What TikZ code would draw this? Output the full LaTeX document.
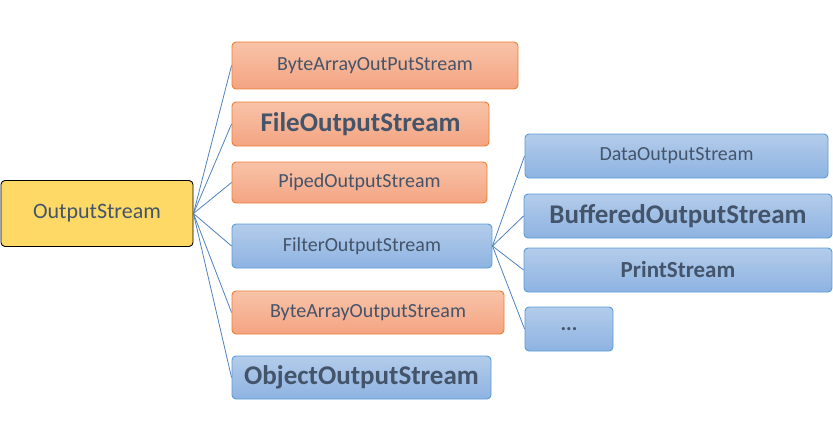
\documentclass[tikz,border=0pt]{standalone}
\usepackage{fontspec}
\setmainfont{Carlito}
\usepackage{xcolor}
\usepackage{tikz}
\usetikzlibrary{positioning}

\definecolor{txtgray}{HTML}{44546A}
\definecolor{orgtop}{HTML}{F8C3A8}
\definecolor{orgbot}{HTML}{F4A482}
\definecolor{orgline}{HTML}{ED7D31}
\definecolor{blutop}{HTML}{B3CCEA}
\definecolor{blubot}{HTML}{8EB3E2}
\definecolor{bluline}{HTML}{5B9BD5}
\definecolor{rootfill}{HTML}{FFD966}
\definecolor{linkcol}{HTML}{4F81BD}

\begin{document}
\begin{tikzpicture}[x=1pt, y=-1pt,
    box/.style={rounded corners=4pt, line width=0.9pt, text=txtgray, inner sep=0pt},
    orgbox/.style={box, draw=orgline, top color=orgtop, bottom color=orgbot},
    blubox/.style={box, draw=bluline, top color=blutop, bottom color=blubot},
    normtxt/.style={font=\fontsize{20}{22}\selectfont},
    boldtxt/.style={font=\fontsize{27}{30}\selectfont\bfseries},
    link/.style={linkcol, line width=0.8pt}]
    \useasboundingbox (0,0) rectangle (833,428);

    % root
    \node[box, draw=black, fill=rootfill, minimum width=192pt, minimum height=66pt,
          font=\fontsize{22}{26}\selectfont] (os) at (97,213.5) {OutputStream};

    % first level
    \node[orgbox, normtxt, minimum width=286pt, minimum height=47pt] (bytetop) at (375,65.5) {ByteArrayOutPutStream};
    \node[orgbox, boldtxt, minimum width=257pt, minimum height=44pt] (file) at (360.5,124) {FileOutputStream};
    \node[orgbox, normtxt, minimum width=255pt, minimum height=41pt] (piped) at (359.5,182.5) {PipedOutputStream};
    \node[blubox, normtxt, minimum width=260pt, minimum height=44pt] (filter) at (362,246) {FilterOutputStream};
    \node[orgbox, normtxt, minimum width=272pt, minimum height=43pt] (bytebot) at (368,312.5) {ByteArrayOutputStream};
    \node[blubox, boldtxt, minimum width=259pt, minimum height=43pt] (object) at (361.5,377.5) {ObjectOutputStream};

    % second level
    \node[blubox, normtxt, minimum width=303pt, minimum height=44pt] (data) at (676.5,156) {DataOutputStream};
    \node[blubox, boldtxt, minimum width=308pt, minimum height=44pt] (buffered) at (678,216) {BufferedOutputStream};
    \node[blubox, font=\fontsize{23}{26}\selectfont\bfseries, minimum width=308pt, minimum height=44pt] (print) at (678,270) {PrintStream};
    \node[blubox, font=\fontsize{21}{24}\selectfont\bfseries, minimum width=88pt, minimum height=44pt] (more) at (569,329) {...};

    % connectors
    \foreach \n in {bytetop, file, piped, filter, bytebot, object} {
        \draw[link] (os.east) -- (\n.west);
    }
    \foreach \n in {data, buffered, print, more} {
        \draw[link] (filter.east) -- (\n.west);
    }
\end{tikzpicture}
\end{document}
